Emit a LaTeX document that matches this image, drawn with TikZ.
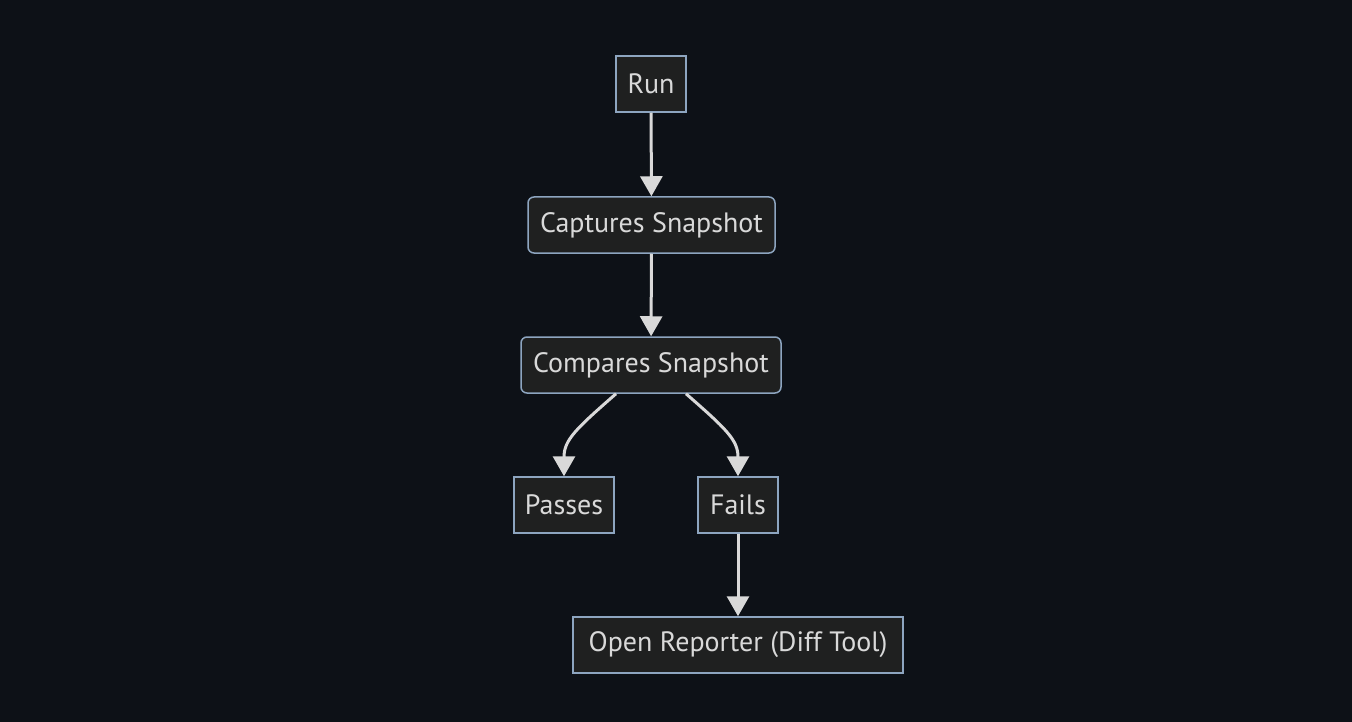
\documentclass[tikz,border=0pt]{standalone}
\usepackage{fontspec}
\setmainfont{PT Sans}
\usetikzlibrary{arrows.meta,calc}

\definecolor{bgdark}{HTML}{0D1117}
\definecolor{boxfill}{HTML}{1F2020}
\definecolor{boxline}{HTML}{8DA5C0}
\definecolor{edgegray}{HTML}{D9D9D9}

\tikzset{
    flowbox/.style={draw=boxline, fill=boxfill, line width=1.5pt, text=edgegray,
        minimum height=56pt, inner sep=0pt, font=\fontsize{28}{32}\selectfont},
    roundbox/.style={flowbox, rounded corners=6pt},
    flowarrow/.style={draw=edgegray, line width=3pt, -{Triangle[width=22pt,length=20pt]}}
}

\begin{document}
\begin{tikzpicture}[x=1pt, y=-1pt]
        \fill[bgdark] (0,0) rectangle (1352,722);

        \node[flowbox, minimum width=70pt]    (run) at (651,84)  {Run};
        \node[roundbox, minimum width=247pt]  (cap) at (651.5,225) {Captures Snapshot};
        \node[roundbox, minimum width=260pt]  (cmp) at (651,365) {Compares Snapshot};
        \node[flowbox, minimum width=100pt]   (pass) at (564,505) {Passes};
        \node[flowbox, minimum width=80pt]    (fail) at (738,505) {Fails};
        \node[flowbox, minimum width=330pt]   (rep) at (738,645) {Open Reporter (Diff Tool)};

        \draw[flowarrow] (run) -- (cap);
        \draw[flowarrow] (cap) -- (cmp);
        \draw[flowarrow] ($(cmp.south)+(-35,0)$) .. controls ($(cmp.south)+(-75,35)$) and (pass.north |- 0,440) .. (pass.north);
        \draw[flowarrow] ($(cmp.south)+(35,0)$) .. controls ($(cmp.south)+(75,35)$) and (fail.north |- 0,440) .. (fail.north);
        \draw[flowarrow] (fail) -- (rep);
    \end{tikzpicture}
\end{document}
